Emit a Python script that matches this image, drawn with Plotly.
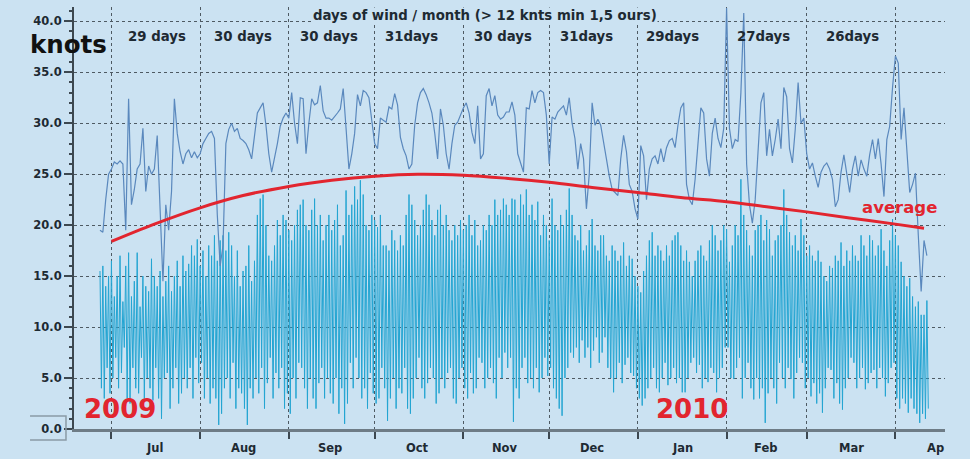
import pandas as pd
import plotly.graph_objects as go

START = "2009-06-27"

# daily maximum wind (knots), one value per day from 27 Jun 2009
max_wind = [
    19.5, 19.3, 22.5, 25, 25.5, 26.2, 26, 26.3, 26, 19.5,
    32.4, 22, 23.5, 25.5, 26, 29.5, 23.3, 25.8, 25, 25.5,
    28.8, 21.5, 14.5, 22, 19.5, 23.3, 32.4, 29, 27.2, 26,
    27, 27.4, 26.6, 27.2, 26.6, 27, 28, 28.5, 29, 29.2,
    28.5, 21, 16, 18, 28, 29.4, 30, 29.2, 29.5, 28.5,
    28.3, 28, 27.4, 26.5, 28.8, 31, 31.5, 32, 29.8, 27,
    25.2, 26.5, 28, 29.7, 30.5, 31, 30.5, 33, 30, 28,
    32.5, 32.4, 27, 30, 32.4, 31.8, 32, 33.7, 31.2, 30.5,
    30.5, 30.3, 30.6, 31, 31.4, 33.4, 29.5, 25.5, 27, 29,
    32.8, 31.7, 33.2, 33, 32.5, 30, 28, 27.5, 30.5, 30.3,
    30.1, 31.6, 31.4, 32.9, 31.8, 28.6, 27.5, 26.8, 25.5, 26,
    29.8, 32, 33, 33.4, 32.8, 32, 31, 29, 26.5, 31.4,
    29.8, 27, 25.5, 28, 29.8, 30.1, 30.8, 31.5, 32, 31,
    29.1, 28, 31.7, 26.5, 27, 32.7, 33.4, 31.7, 32.7, 30.8,
    30.4, 30.6, 31.1, 31.1, 32.1, 30.8, 27, 26, 25.2, 31.5,
    31.4, 33.2, 32, 33, 33.2, 33, 30.8, 26, 30.6, 30.4,
    31.1, 31.4, 31.7, 30.8, 32.5, 30, 28.5, 25.5, 28, 26.5,
    21.6, 25, 32, 29.8, 30.4, 29.8, 28.3, 26.5, 24.8, 23.5,
    23.2, 22.9, 26.5, 28.8, 27.2, 24, 23.3, 21.6, 20.6, 27.8,
    26.8, 22.5, 25.5, 26.5, 26.8, 26, 27.5, 26.2, 27.6, 28.3,
    28.5, 27.6, 29.8, 31.5, 32, 24, 22.5, 22, 24.5, 28,
    31.5, 31, 26.5, 24.8, 29, 30.5, 28.5, 27.6, 29.5, 41.3,
    29.5, 27.5, 28.4, 28.2, 33, 40.8, 26, 22, 20.2, 22.5,
    27, 32, 33, 26.8, 29.4, 26.8, 28.4, 30.4, 27.5, 33.5,
    32.6, 27.5, 26.1, 29.4, 34, 30, 30.5, 27, 25.5, 26.1,
    24.8, 23.7, 25.2, 25.8, 26.1, 25.5, 24.5, 21.8, 22.5, 25.2,
    26.9, 24.8, 23.2, 25.5, 26.8, 24.8, 26.4, 25.5, 24.8, 26.9,
    28.4, 26.5, 28.5, 26, 22.8, 28.4, 29.7, 33.5, 36.6, 35.9,
    28.4, 31.5, 27, 23.2, 24, 25.1, 19, 13.5, 18.5, 17,
]

# wind readings: daily high and low of the dense series
wind_high = [
    15.5, 16, 14, 15, 16.5, 13, 15, 17, 12.5, 16,
    17.3, 13, 14.5, 17.3, 12, 15, 14, 13.5, 16.7, 15,
    14, 15.5, 13, 14.5, 16, 13.5, 15, 16.5, 14, 17,
    15.5, 16.2, 18, 17, 18.6, 16, 17.5, 15, 18, 17,
    19, 16.5, 18.5, 19, 17.5, 19.3, 18, 15, 17.5, 14,
    15.5, 16, 18, 14.5, 16.5, 21, 22.6, 23, 20, 17,
    16.5, 18, 20.5, 19, 21, 20.5, 19.5, 18.5, 20, 21.5,
    22, 22.5, 20, 19.5, 21.5, 22.6, 20, 21, 18.5, 20,
    21, 19.5, 20.5, 22, 18, 19, 23.4, 21, 22, 23.8,
    22.5, 24.4, 23, 20, 19.5, 21, 20.5, 19.8, 21, 18,
    18, 17.5, 19.5, 18.5, 17.5, 19, 18, 21, 23, 22,
    20.5, 19, 20, 21.5, 23, 22, 20.5, 19, 21.5, 22,
    20, 21, 19.5, 18.5, 20, 19, 20.5, 19.5, 20, 21,
    19, 20.5, 18, 18.5, 20, 19.5, 21, 20, 22.5, 21,
    21.5, 22.6, 22, 21, 22.6, 22.5, 21, 23, 22, 23.5,
    21, 22, 20.5, 22.3, 19, 21, 20, 18.5, 22.6, 20,
    19.5, 21, 20, 21.5, 23.6, 21, 19, 18.5, 20, 17.5,
    18, 19.5, 20.6, 18, 17.5, 19, 19, 17, 16.5, 18,
    17.5, 16.5, 17, 18.3, 16, 17, 16.7, 15, 14, 13.4,
    15.5, 17, 18.5, 19.3, 17, 18, 17.5, 16.5, 18, 17,
    18.5, 19, 19.3, 18, 16.5, 17.5, 16.4, 15, 16.5, 17.5,
    18, 17, 16.5, 18.5, 20, 19, 17.5, 18.5, 20, 19.6,
    16.4, 18, 20, 19, 24.5, 21, 19.5, 18, 17, 19.5,
    20, 21, 18.5, 20.5, 19.6, 17, 18.5, 19, 20, 23.5,
    21, 19.3, 18, 19, 17.5, 20.6, 19, 17, 18, 17,
    16.5, 17.5, 16.4, 15, 14.5, 16, 15.8, 17, 16.5, 18.3,
    16, 17.5, 16.5, 18, 17, 16.5, 19, 18, 17, 19,
    18.5, 17, 18, 19.6, 17.5, 16, 18.5, 20.6, 19, 18,
    16.4, 15, 14, 14.8, 13, 12, 12.5, 11.2, 11.2, 12.6,
]
wind_low = [
    4, 3, 6, 3.5, 5, 7, 4, 5.5, 8, 3,
    2.5, 6, 4, 3.5, 7, 3, 5, 4, 2.8, 6,
    3, 1, 5, 5.5, 2, 4, 6, 2.5, 3.5, 5,
    4, 6, 3, 7, 4.5, 6.5, 3, 5, 2.5, 4,
    3, 0.4, 1.5, 4, 5, 3, 6.5, 2, 4, 3.5,
    2, 0.4, 4, 3, 5, 3.5, 6, 2, 4.5, 7,
    3, 5.5, 4, 6, 2, 3.5, 1.5, 5, 3, 6.5,
    6, 4, 2, 5, 3, 2, 4.5, 6, 3, 5,
    3.5, 2.5, 5, 1.5, 4, 0.5, 2.5, 6.5, 4, 7,
    5, 3, 4, 2, 5.5, 3.5, 2.5, 3, 6, 4,
    0.8, 3, 5, 2, 4, 3.5, 6, 2, 1.5, 3,
    5, 7, 4, 3, 4.5, 6, 5, 2.5, 3.5, 5,
    4, 5.5, 6, 3, 2.5, 5, 6, 4, 3, 5.5,
    3.5, 4, 7, 6.5, 4, 5, 6, 4.5, 3, 7,
    5, 7.5, 6, 7, 0.7, 4, 3, 6, 7, 4.5,
    5, 4, 6, 3.6, 5, 7, 5.2, 6, 4, 3,
    2, 1.3, 5, 6, 7.5, 7, 8, 6.5, 8.7, 7,
    8, 6, 7.7, 9, 6.5, 7.5, 9, 6, 5, 3.6,
    5, 6.5, 4.5, 6.3, 7, 5.5, 5.2, 4, 3, 2.3,
    3, 4, 5, 6, 4, 3.6, 5, 6.5, 4.3, 5,
    6, 4.5, 5, 3.6, 3.6, 5, 6.5, 7, 5.5, 6.3,
    4, 5, 4.6, 6, 5.5, 3.6, 5, 6, 8, 8,
    5, 4.9, 6, 7, 3, 5, 6.5, 4, 2.9, 5,
    3, 4, 0.6, 3.5, 5, 4, 2.5, 6.5, 5, 4,
    6, 4.9, 3, 5.5, 7, 6.5, 4, 5, 3.2, 4.5,
    2.5, 3.5, 1.6, 4, 6, 5.8, 3, 4.5, 2.5, 1.9,
    4, 5, 7, 6.5, 4, 5, 6, 3.9, 4.5, 5.5,
    5.8, 4, 6, 5, 3.2, 4.5, 6, 6.5, 3, 2,
    3, 2.5, 1.6, 3, 2, 1.5, 0.6, 1.5, 1, 2,
]

# smoothed average curve
avg_dates = ["2009-07-01", "2009-07-16", "2009-08-01", "2009-08-16", "2009-09-01",
             "2009-09-16", "2009-10-01", "2009-10-16", "2009-11-01", "2009-11-16",
             "2009-12-01", "2009-12-16", "2010-01-01", "2010-01-16", "2010-02-01",
             "2010-02-15", "2010-03-01", "2010-03-16", "2010-04-01", "2010-04-11"]
avg_vals = [18.4, 20.1, 21.7, 22.9, 23.8, 24.4, 24.8, 25.0, 24.9, 24.6,
            24.2, 23.7, 23.2, 22.7, 22.3, 21.8, 21.3, 20.7, 20.1, 19.7]

months = ["Jul", "Aug", "Sep", "Oct", "Nov", "Dec", "Jan", "Feb", "Mar", "Ap"]
month_mid = ["2009-07-16", "2009-08-16", "2009-09-15 12:00", "2009-10-16", "2009-11-15 12:00",
             "2009-12-16", "2010-01-16 12:00", "2010-02-14 12:00", "2010-03-16 12:00", "2010-04-15"]
month_starts = ["2009-07-01", "2009-08-01", "2009-09-01", "2009-10-01", "2009-11-01",
                "2009-12-01", "2010-01-01", "2010-02-01", "2010-03-01", "2010-04-01"]

day_counts = ["29 days", "30 days", "30 days", "31days", "30 days", "31days", "29days", "27days", "26days"]
day_count_pos = ["2009-07-17", "2009-08-16", "2009-09-15", "2009-10-14", "2009-11-15",
                 "2009-12-14", "2010-01-13", "2010-02-14", "2010-03-17"]

days = pd.date_range(START, periods=len(max_wind), freq="D")

# dense series: high then low within each day
wx, wy = [], []
for i, d in enumerate(days):
    wx.append(d)
    wy.append(wind_high[i])
    wx.append(d + pd.Timedelta(hours=12))
    wy.append(wind_low[i])

BG = "#cbe2f2"
RED = "#e2252f"
TXT = "#1e2a33"
FONT = "DejaVu Sans"

fig = go.Figure()
fig.add_trace(go.Scatter(x=wx, y=wy, mode="lines",
                         line=dict(color="#24a5d2", width=1.0), hoverinfo="skip"))
fig.add_trace(go.Scatter(x=days, y=max_wind, mode="lines",
                         line=dict(color="#5a88bd", width=1.2), hoverinfo="skip"))
fig.add_trace(go.Scatter(x=avg_dates, y=avg_vals, mode="lines",
                         line=dict(color=RED, width=3, shape="spline", smoothing=1.0),
                         hoverinfo="skip"))

ann = []
for m, p in zip(months, month_mid):
    ann.append(dict(x=p, y=-0.046, xref="x", yref="paper", text=m, showarrow=False,
                    font=dict(family=FONT, size=11.5, color=TXT, weight="bold"),
                    xanchor="center", yanchor="middle"))
for t, p in zip(day_counts, day_count_pos):
    ann.append(dict(x=p, y=0.929, xref="x", yref="paper", text=t, showarrow=False,
                    font=dict(family=FONT, size=13.3, color=TXT, weight="bold"),
                    xanchor="center", yanchor="middle"))
ann.append(dict(x="2009-11-08 14:00", y=0.979, xref="x", yref="paper",
                text="days of wind / month (> 12 knts min 1,5 ours)", showarrow=False,
                font=dict(family=FONT, size=13.3, color=TXT, weight="bold"),
                xanchor="center", yanchor="middle", bgcolor=BG, borderpad=0))
ann.append(dict(x=-0.053, y=0.91, xref="paper", yref="paper", text="knots", showarrow=False,
                font=dict(family=FONT, size=24.5, color="#111111", weight="bold"),
                xanchor="left", yanchor="middle"))
ann.append(dict(x="2009-07-04", y=1.96, xref="x", yref="y", text="2009", showarrow=False,
                font=dict(family=FONT, size=26, color=RED, weight="bold"),
                xanchor="center", yanchor="middle"))
ann.append(dict(x="2010-01-19 20:00", y=1.96, xref="x", yref="y", text="2010", showarrow=False,
                font=dict(family=FONT, size=26, color=RED, weight="bold"),
                xanchor="center", yanchor="middle"))
ann.append(dict(x="2010-04-02 14:00", y=21.7, xref="x", yref="y", text="average", showarrow=False,
                font=dict(family=FONT, size=16.5, color=RED, weight="bold"),
                xanchor="center", yanchor="middle"))

fig.update_layout(
    width=970, height=459,
    margin=dict(l=74, r=25, t=7, b=30),
    paper_bgcolor=BG, plot_bgcolor=BG,
    showlegend=False,
    annotations=ann,
    shapes=[dict(type="path", xref="paper", yref="paper",
                 path="M -0.0505 0.031 L -0.0092 0.031 L -0.0092 -0.026 L -0.0505 -0.026",
                 line=dict(color="#8b9ba6", width=1.5))],
    xaxis=dict(
        type="date",
        range=["2009-06-17 22:00", "2010-04-18 08:00"],
        tickvals=month_starts, ticktext=[""] * len(month_starts),
        ticks="outside", ticklen=7, tickwidth=1.5, tickcolor="#3d4850",
        showgrid=True, gridcolor="#4e5a63", griddash="dot", gridwidth=1,
        showline=True, linecolor="#6e7c86", linewidth=2.5,
        zeroline=False,
    ),
    yaxis=dict(
        range=[0, 41.4],
        tickvals=[0, 5, 10, 15, 20, 25, 30, 35, 40],
        tickformat=".1f",
        ticks="outside", ticklen=8, tickwidth=1.5, tickcolor="#3d4850",
        tickfont=dict(family=FONT, size=11.5, color=TXT, weight="bold"),
        minor=dict(dtick=1, ticks="outside", ticklen=3, tickcolor="#3d4850", showgrid=False),
        showgrid=True, gridcolor="#4e5a63", griddash="dot", gridwidth=1,
        showline=True, linecolor="#3d4850", linewidth=2,
        zeroline=False,
    ),
)

fig.write_html(
    "out.html",
    config={"displayModeBar": False},
    post_script="document.body.style.margin='0px';"
                "document.body.style.background='" + BG + "';",
)
